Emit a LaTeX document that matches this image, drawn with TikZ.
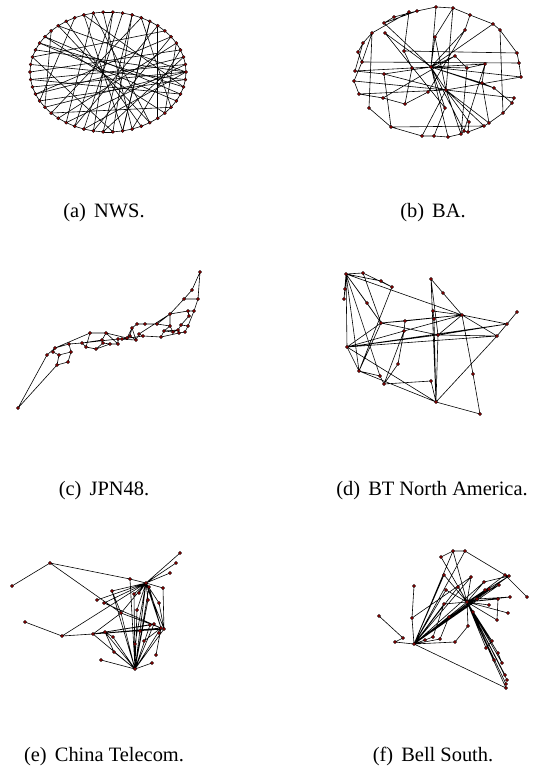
\documentclass[tikz,border=0pt]{standalone}
\usepackage{fontspec}
\setmainfont{Liberation Serif}
\usepackage{tikz}
\usepackage{tkz-euclide}
\definecolor{vred}{RGB}{150,0,0}
\tikzset{edge/.style={line width=0.6pt,black},
  vertex/.style={fill=vred,draw=black,line width=0.35pt},
  caption/.style={anchor=base,inner sep=0pt,font=\fontsize{20.5}{24}\selectfont}}

\begin{document}
\begin{tikzpicture}[x=1bp,y=-1bp]
\useasboundingbox (0,0) rectangle (535,773);
% (a) NWS: ring of 50 plus shortcuts
\foreach \k in {0,...,49}{\coordinate (a\k) at ({108+78*cos(7.2*\k)},{72-60*sin(7.2*\k)});}
\foreach \k [remember=\k as \p (initially 49)] in {0,...,49} \draw[edge] (a\p)--(a\k);
\foreach \u/\v in {0/27,0/22,0/30,0/18,0/35,49/24,49/29,1/26,1/33,2/28,2/37,48/21,48/15,
  3/40,4/32,5/36,6/23,7/34,8/39,9/31,10/38,11/35,12/36,13/40,14/33,15/39,16/29,17/41,
  18/42,19/30,20/44,21/46,23/38,25/3,26/47,28/5,31/45,34/12,37/10,43/7,45/9,47/20,
  42/14,39/8,44/4}
  \draw[edge] (a\u)--(a\v);
\foreach \k in {0,...,49} \filldraw[vertex] (a\k) circle (1.6);

% (b) BA
\tkzDefPoints{436/7/b1,453/8/b2,417/11/b3,409/12/b4,394/17/b5,470/15/b6,384/23/b7,
  493/24/b8,500/30/b9,465/30/b10,372/33/b11,385/33/b12,435/37/b13,363/43/b14,358/52/b15,
  404/51/b16,517/53/b17,455/56/b18,362/62/b19,519/63/b20,431/67/b21,412/68/b22,467/68/b23,
  485/64/b24,355/71/b25,384/74/b26,521/77/b27,354/81/b28,482/83/b29,494/88/b30,446/90/b31,
  428/92/b32,359/94/b33,383/98/b34,514/98/b35,512/103/b36,405/104/b37,445/108/b38,
  369/108/b39,503/113/b40,391/127/b41,489/123/b42,469/122/b43,484/126/b44,464/131/b45,
  468/132/b46,461/134/b47,448/137/b48,434/136/b49,422/136/b50}
\draw[edge](b1)--(b2)(b1)--(b3)(b1)--(b21)(b2)--(b6)(b2)--(b13)(b2)--(b31)(b3)--(b5)
(b3)--(b7)(b4)--(b11)(b4)--(b16)(b5)--(b7)(b6)--(b8)(b6)--(b10)(b8)--(b9)(b8)--(b21)
(b9)--(b17)(b9)--(b40)(b10)--(b21)(b10)--(b32)(b11)--(b14)(b11)--(b19)(b11)--(b39)
(b12)--(b21)(b12)--(b38)(b13)--(b21)(b13)--(b31)(b14)--(b15)(b14)--(b25)(b15)--(b19)
(b16)--(b17)(b16)--(b22)(b17)--(b20)(b18)--(b21)(b18)--(b23)(b18)--(b34)(b19)--(b20)
(b19)--(b28)(b20)--(b27)(b21)--(b22)(b21)--(b23)(b21)--(b24)(b21)--(b25)(b21)--(b26)
(b21)--(b27)(b21)--(b29)(b21)--(b30)(b21)--(b31)(b21)--(b38)(b21)--(b45)(b21)--(b48)
(b21)--(b7)(b22)--(b37)(b23)--(b24)(b23)--(b47)(b24)--(b29)(b25)--(b26)(b26)--(b31)
(b26)--(b41)(b27)--(b31)(b28)--(b31)(b29)--(b30)(b29)--(b42)(b30)--(b36)(b31)--(b33)
(b31)--(b35)(b31)--(b42)(b31)--(b43)(b31)--(b44)(b31)--(b50)(b31)--(b47)(b32)--(b37)
(b33)--(b34)(b34)--(b37)(b35)--(b36)(b36)--(b40)(b38)--(b49)(b39)--(b41)(b40)--(b42)
(b41)--(b50)(b41)--(b44)(b42)--(b44)(b43)--(b46)(b44)--(b46)(b45)--(b46)(b45)--(b47)
(b47)--(b48)(b48)--(b49)(b49)--(b50)(b24)--(b45)(b28)--(b33);
\foreach \k in {1,...,50} \filldraw[vertex] (b\k) circle (1.6);

% (c) JPN48
\tkzDefPoints{200/272/c1,192/290/c2,184/299/c3,198/299/c4,188/311/c5,194/311/c6,
  189/316/c7,170/314/c8,157/324/c9,145/324/c10,137/324/c11,132/328/c12,170/326/c13,
  181/325/c14,188/326/c15,178/330/c16,173/332/c17,179/333/c18,185/332/c19,164/331/c20,
  161/337/c21,143/336/c22,139/334/c23,136/340/c24,130/336/c25,127/338/c26,122/339/c27,
  118/339/c28,118/344/c29,110/344/c30,106/333/c31,90/333/c32,102/340/c33,103/343/c34,
  96/349/c35,86/347/c36,82/343/c37,69/344/c38,71/352/c39,55/348/c40,53/352/c41,
  59/355/c42,47/355/c43,68/362/c44,57/365/c45,18/408/c46}
\draw[edge](c46)--(c43)(c46)--(c45)(c43)--(c40)(c45)--(c44)(c44)--(c39)(c39)--(c42)
(c42)--(c41)(c41)--(c40)(c42)--(c45)(c40)--(c32)(c40)--(c38)(c38)--(c39)(c38)--(c37)
(c37)--(c36)(c36)--(c35)(c35)--(c30)(c30)--(c29)(c29)--(c28)(c32)--(c31)(c31)--(c26)
(c31)--(c33)(c33)--(c37)(c33)--(c34)(c34)--(c30)(c37)--(c28)(c28)--(c27)(c27)--(c26)
(c26)--(c25)(c25)--(c24)(c25)--(c12)(c24)--(c23)(c23)--(c22)(c22)--(c21)(c21)--(c20)
(c20)--(c17)(c17)--(c13)(c13)--(c9)(c9)--(c10)(c10)--(c11)(c11)--(c12)(c12)--(c26)
(c13)--(c8)(c8)--(c3)(c3)--(c2)(c2)--(c1)(c1)--(c4)(c4)--(c6)(c3)--(c4)(c8)--(c5)
(c5)--(c6)(c6)--(c15)(c15)--(c14)(c14)--(c16)(c16)--(c17)(c7)--(c5)(c7)--(c14)
(c18)--(c19)(c19)--(c15)(c16)--(c18)(c20)--(c13)(c8)--(c23)(c21)--(c18)(c24)--(c12)
(c29)--(c31)(c28)--(c24)(c27)--(c22)(c20)--(c16)(c8)--(c9)(c36)--(c32)(c35)--(c34);
\foreach \k in {1,...,46} \filldraw[vertex] (c\k) circle (1.6);

% (d) BT North America
\tkzDefPoints{346/274/d1,363/273/d2,381/281/d3,392/287/d4,345/289/d5,344/299/d6,
  367/303/d7,431/279/d8,443/293/d9,433/311/d10,434/319/d11,462/315/d12,517/312/d13,
  507/324/d14,497/336/d15,438/335/d16,381/323/d17,405/321/d18,404/331/d19,347/347/d20,
  398/364/d21,359/371/d22,380/376/d23,384/384/d24,431/381/d25,473/374/d26,436/402/d27,
  480/414/d28}
\draw[edge](d1)--(d2)(d1)--(d3)(d2)--(d4)(d3)--(d4)(d1)--(d5)(d5)--(d6)(d1)--(d6)
(d1)--(d7)(d7)--(d17)(d1)--(d17)(d1)--(d20)(d1)--(d22)(d1)--(d12)(d2)--(d17)(d4)--(d22)
(d1)--(d23)(d17)--(d12)(d17)--(d18)(d18)--(d12)(d17)--(d20)(d19)--(d20)(d19)--(d18)
(d19)--(d12)(d19)--(d21)(d21)--(d24)(d20)--(d15)(d20)--(d16)(d20)--(d22)(d20)--(d27)
(d22)--(d27)(d22)--(d23)(d23)--(d24)(d24)--(d25)(d25)--(d27)(d16)--(d27)(d16)--(d15)
(d16)--(d12)(d10)--(d11)(d11)--(d27)(d8)--(d27)(d8)--(d16)(d8)--(d9)(d9)--(d12)
(d12)--(d14)(d12)--(d15)(d13)--(d14)(d14)--(d15)(d15)--(d27)(d13)--(d15)(d12)--(d26)
(d26)--(d28)(d28)--(d27)(d14)--(d16)(d20)--(d14)(d22)--(d17)(d19)--(d24)(d10)--(d12)
(d17)--(d16);
\foreach \k in {1,...,28} \filldraw[vertex] (d\k) circle (1.6);

% (e) China Telecom
\tkzDefPoints{12/586/e1,50/563/e2,25/622/e3,62/636/e4,180/553/e5,176/563/e6,170/573/e7,
  130/579/e8,146/583/e9,149/587/e10,163/588/e11,112/591/e12,139/593/e13,134/594/e14,
  97/600/e15,104/603/e16,148/600/e17,159/603/e18,137/610/e19,121/613/e20,150/625/e21,
  154/624/e22,161/628/e23,164/629/e24,159/633/e25,140/631/e26,93/634/e27,105/632/e28,
  113/637/e29,144/641/e30,135/644/e31,114/652/e32,156/655/e33,101/660/e34,152/663/e35,
  135/669/e36}
\draw[edge](e1)--(e2)(e2)--(e8)(e2)--(e20)(e3)--(e4)(e4)--(e27)(e4)--(e9)(e8)--(e9)
(e9)--(e5)(e9)--(e6)(e9)--(e7)(e9)--(e11)(e9)--(e10)(e9)--(e12)(e9)--(e14)(e9)--(e13)
(e9)--(e15)(e9)--(e16)(e9)--(e20)(e9)--(e17)(e9)--(e18)(e9)--(e23)(e9)--(e24)(e9)--(e36)
(e9)--(e31)(e9)--(e26)(e9)--(e19)(e10)--(e23)(e10)--(e36)(e12)--(e20)(e12)--(e36)
(e20)--(e23)(e20)--(e27)(e20)--(e36)(e27)--(e23)(e27)--(e24)(e27)--(e28)(e27)--(e21)
(e27)--(e22)(e28)--(e36)(e28)--(e32)(e28)--(e29)(e27)--(e36)(e29)--(e36)(e32)--(e36)
(e34)--(e36)(e35)--(e36)(e33)--(e23)(e30)--(e23)(e26)--(e23)(e21)--(e36)(e22)--(e36)
(e23)--(e36)(e19)--(e36)(e17)--(e36)(e16)--(e23)(e14)--(e36)(e8)--(e36)(e24)--(e36)
(e18)--(e24)(e11)--(e24);
\foreach \k in {1,...,36} \filldraw[vertex] (e\k) circle (1.6);

% (f) Bell South
\tkzDefPoints{441/557/f1,453/551/f2,465/551/f3,444/575/f4,505/575/f5,509/576/f6,
  471/577/f7,484/582/f8,414/586/f9,446/590/f10,458/587/f11,499/585/f12,489/589/f13,
  485/590/f14,527/597/f15,510/597/f16,498/599/f17,467/602/f18,477/599/f19,444/604/f20,
  489/605/f21,508/613/f22,473/612/f23,379/616/f24,412/618/f25,449/617/f26,497/620/f27,
  468/626/f28,433/637/f29,440/639/f30,425/640/f31,455/642/f32,403/638/f33,395/642/f34,
  414/644/f35,492/641/f36,486/648/f37,498/653/f38,494/660/f39,502/663/f40,505/675/f41,
  507/680/f42,506/684/f43,506/688/f44}
\draw[edge](f1)--(f2)(f2)--(f3)(f2)--(f18)(f2)--(f35)(f3)--(f35)(f3)--(f5)(f5)--(f6)
(f5)--(f15)(f6)--(f8)(f4)--(f18)(f4)--(f35)(f24)--(f33)(f33)--(f34)(f34)--(f35)
(f9)--(f25)(f25)--(f35)(f25)--(f7)(f35)--(f31)(f35)--(f29)(f35)--(f30)(f35)--(f32)
(f35)--(f18)(f35)--(f11)(f35)--(f10)(f35)--(f20)(f35)--(f26)(f35)--(f7)(f35)--(f8)
(f35)--(f13)(f35)--(f12)(f35)--(f5)(f35)--(f6)(f35)--(f14)(f35)--(f44)(f10)--(f18)
(f11)--(f18)(f7)--(f18)(f8)--(f18)(f18)--(f12)(f18)--(f13)(f18)--(f14)(f18)--(f16)
(f18)--(f17)(f18)--(f19)(f18)--(f21)(f18)--(f22)(f18)--(f23)(f18)--(f20)(f18)--(f27)
(f18)--(f28)(f18)--(f36)(f18)--(f37)(f18)--(f38)(f18)--(f39)(f18)--(f40)(f18)--(f41)
(f18)--(f42)(f18)--(f43)(f18)--(f44)(f6)--(f18)(f32)--(f28)(f30)--(f26)(f19)--(f16)
(f17)--(f27)(f36)--(f37)(f38)--(f40)(f1)--(f18)(f29)--(f20);
\foreach \k in {1,...,44} \filldraw[vertex] (f\k) circle (1.6);

% sub-captions
\node[caption] (capa) at (104,217) {(a)\hspace{0.4em}NWS.};
\node[caption] (capb) at (433,217) {(b)\hspace{0.4em}BA.};
\node[caption] (capc) at (104,495) {(c)\hspace{0.4em}JPN48.};
\node[caption] (capd) at (432,495) {(d)\hspace{0.4em}BT North America.};
\node[caption] (cape) at (104,761) {(e)\hspace{0.4em}China Telecom.};
\node[caption] (capf) at (433,761) {(f)\hspace{0.4em}Bell South.};
\end{tikzpicture}
\end{document}
